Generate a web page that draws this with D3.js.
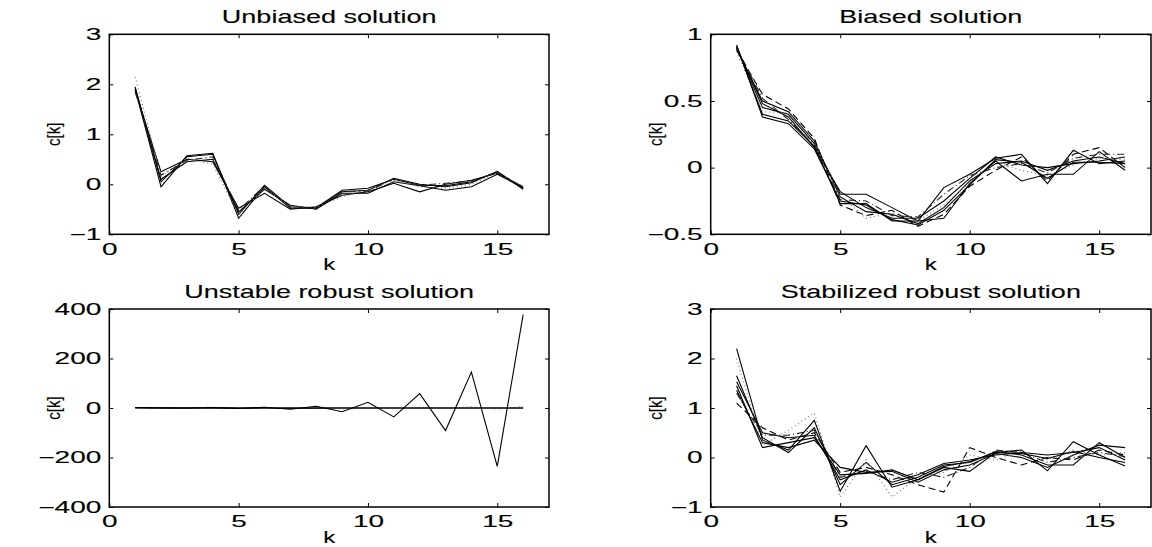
<!DOCTYPE html>
<html><head><meta charset="utf-8">
<script src="https://cdn.jsdelivr.net/npm/d3@7"></script>
<style>body{margin:0;background:#fff}svg{display:block}</style>
</head><body>
<svg id="c" width="1152" height="547"></svg>
<script>
// ---------- data ----------
const k = [1,2,3,4,5,6,7,8,9,10,11,12,13,14,15,16];
const xTicks = [0,5,10,15];

const titles = ["Unbiased solution","Biased solution","Unstable robust solution","Stabilized robust solution"];
const yTicks1 = [-1,0,1,2,3];
const yTicks2 = [-0.5,0,0.5,1];
const yTicks3 = [-400,-200,0,200,400];
const yTicks4 = [-1,0,1,2,3];

// Unbiased solution
const unb1 = [1.95, 0.05, 0.55, 0.60, -0.60, -0.02, -0.45, -0.47, -0.12, -0.08, 0.10, -0.02, -0.03, 0.05, 0.25, -0.08];
const unb2 = [1.90, -0.05, 0.57, 0.62, -0.68, -0.05, -0.48, -0.48, -0.15, -0.12, 0.12, 0.00, -0.05, 0.03, 0.26, -0.10];
const unb3 = [1.88, 0.25, 0.50, 0.45, -0.48, -0.18, -0.50, -0.45, -0.22, -0.15, 0.02, -0.15, 0.00, 0.08, 0.22, -0.05];
const unb4 = [1.92, 0.10, 0.45, 0.50, -0.55, -0.10, -0.42, -0.50, -0.18, -0.18, 0.05, -0.03, -0.12, -0.05, 0.20, -0.07];
const unb5 = [2.15, 0.15, 0.52, 0.40, -0.62, -0.08, -0.44, -0.46, -0.25, -0.10, 0.08, -0.05, -0.08, 0.00, 0.23, -0.04];
const unb6 = [1.85, 0.18, 0.48, 0.55, -0.52, -0.03, -0.46, -0.49, -0.14, -0.14, 0.11, -0.02, 0.02, 0.06, 0.24, -0.09];

// Biased solution
const bia1 = [0.90, 0.45, 0.40, 0.18, -0.20, -0.20, -0.30, -0.40, -0.15, -0.05, 0.07, 0.10, -0.12, 0.13, 0.03, 0.05];
const bia2 = [0.91, 0.40, 0.35, 0.16, -0.27, -0.27, -0.40, -0.40, -0.38, -0.12, 0.05, -0.10, -0.05, -0.05, 0.12, -0.02];
const bia3 = [0.89, 0.50, 0.42, 0.20, -0.22, -0.33, -0.35, -0.42, -0.30, -0.10, 0.03, 0.05, -0.02, 0.05, 0.08, 0.03];
const bia4 = [0.90, 0.48, 0.38, 0.15, -0.18, -0.30, -0.38, -0.38, -0.25, -0.08, 0.08, 0.02, 0.00, 0.03, 0.05, 0.08];
const bia5 = [0.88, 0.55, 0.44, 0.22, -0.28, -0.36, -0.32, -0.44, -0.35, -0.14, -0.02, 0.08, -0.10, 0.10, 0.15, 0.00];
const bia6 = [0.90, 0.52, 0.36, 0.17, -0.24, -0.25, -0.36, -0.37, -0.20, -0.06, 0.00, 0.03, -0.04, 0.07, 0.10, 0.10];
const bia7 = [0.87, 0.42, 0.41, 0.19, -0.21, -0.38, -0.34, -0.40, -0.28, -0.11, 0.04, -0.02, -0.06, 0.02, 0.07, 0.06];
const bia8 = [0.92, 0.38, 0.33, 0.14, -0.25, -0.28, -0.39, -0.43, -0.32, -0.13, 0.06, 0.04, -0.08, 0.04, 0.04, 0.03];

// Unstable robust solution
const uns1 = [0, 0.5, -1, 2, -2, 3, -5, 7, -15, 23, -36, 58, -91, 145, -236, 377];
const uns2 = [1.9, 0.3, 0.4, 0.5, -0.5, -0.2, -0.5, -0.4, -0.2, -0.1, 0.1, 0, -0.1, 0.1, 0.2, 0];
const uns3 = [2, 1, -1, 3, -2, 2, -3, 4, -3, 2, -2, 3, -2, 5, -4, 6];
const uns4 = [1.5, 0.4, 0.3, 0.6, -0.4, -0.1, -0.6, -0.3, -0.1, 0, 0.1, 0.1, -0.2, 0.2, 0.1, -0.1];

// Stabilized robust solution
const sta1 = [2.20, 0.35, 0.15, 0.75, -0.68, 0.24, -0.60, -0.45, -0.20, -0.28, 0.10, 0.15, -0.27, 0.32, 0.05, -0.17];
const sta2 = [1.65, 0.40, 0.10, 0.60, -0.55, -0.10, -0.55, -0.40, -0.15, -0.10, 0.12, 0.05, -0.15, -0.15, 0.30, 0.00];
const sta3 = [1.53, 0.50, 0.40, 0.45, -0.45, -0.25, -0.50, -0.35, -0.12, -0.05, 0.05, 0.10, 0.05, 0.10, 0.20, -0.05];
const sta4 = [1.36, 0.30, 0.20, 0.35, -0.20, -0.30, -0.28, -0.50, -0.25, -0.15, 0.08, 0.00, -0.20, 0.05, 0.25, 0.20];
const sta5 = [1.10, 0.60, 0.35, 0.50, -0.30, -0.20, -0.35, -0.55, -0.70, 0.20, 0.00, -0.15, 0.00, -0.05, 0.15, 0.05];
const sta6 = [1.30, 0.45, 0.45, 0.55, -0.40, -0.28, -0.45, -0.30, -0.40, -0.20, 0.15, 0.10, -0.10, 0.00, 0.10, 0.02];
const sta7 = [2.00, 0.25, 0.55, 0.90, -0.80, -0.05, -0.80, -0.40, -0.30, 0.05, -0.05, 0.12, -0.05, 0.15, 0.05, 0.10];
const sta8 = [1.45, 0.20, 0.30, 0.40, -0.35, -0.32, -0.25, -0.45, -0.18, -0.08, 0.10, 0.08, -0.02, 0.12, 0.00, -0.10];

// ---------- styles ----------
const STY = {
  solid:  {dash:null, color:"#000", w:1.1},
  dashed: {dash:"7,4", color:"#000", w:1.1},
  dashdot:{dash:"7,3,1,3", color:"#222", w:1.1},
  dotted: {dash:"1,3", color:"#777", w:1.2}
};

const panels = [
  {title:titles[0], y:[-1,3], yt:yTicks1, box:[109.3,549,34.3,234.3],
   series:[[unb1,"solid"],[unb2,"solid"],[unb3,"solid"],[unb4,"solid"],[unb5,"dotted"],[unb6,"dashdot"]]},
  {title:titles[1], y:[-0.5,1], yt:yTicks2, box:[710.7,1151,34.3,234.3],
   series:[[bia1,"solid"],[bia2,"solid"],[bia3,"solid"],[bia4,"solid"],[bia5,"dashed"],[bia6,"dashdot"],[bia7,"dotted"],[bia8,"solid"]]},
  {title:titles[2], y:[-400,400], yt:yTicks3, box:[109.3,549,309,507],
   series:[[uns2,"solid"],[uns3,"dotted"],[uns4,"solid"],[uns1,"solid"]]},
  {title:titles[3], y:[-1,3], yt:yTicks4, box:[710.7,1151,309,507],
   series:[[sta2,"solid"],[sta3,"solid"],[sta4,"solid"],[sta5,"dashed"],[sta6,"dashdot"],[sta7,"dotted"],[sta8,"solid"],[sta1,"solid"]]}
];

const FONT = "'Liberation Sans', Arial, Helvetica, sans-serif";
const TICK_FS = 16, TICK_SX = 1.75;
const TITLE_FS = 18, TITLE_SX = 1.5;
const TXT_STROKE = 0.12;
const svg = d3.select("#c");

function fmt(v){ return d3.format("")(v).replace("-", "\u2212"); }

panels.forEach(p => {
  const [L,R,T,B] = p.box;
  const x = d3.scaleLinear().domain([0,17]).range([L,R]);
  const y = d3.scaleLinear().domain(p.y).range([B,T]);
  const g = svg.append("g");

  // lines
  const line = d3.line().x((d,i)=>x(k[i])).y(d=>y(d));
  p.series.forEach(([vals, s]) => {
    const st = STY[s];
    g.append("path").attr("d", line(vals)).attr("fill","none")
      .attr("stroke", st.color).attr("stroke-width", st.w)
      .attr("stroke-dasharray", st.dash).attr("stroke-linejoin","miter");
  });

  // axes (inward ticks)
  const ax = [
    g.append("g").attr("transform",`translate(0,${B})`).call(d3.axisBottom(x).tickValues(xTicks).tickSizeInner(-4).tickSizeOuter(0).tickPadding(9).tickFormat(fmt)),
    g.append("g").attr("transform",`translate(0,${T})`).call(d3.axisTop(x).tickValues(xTicks).tickSizeInner(-4).tickSizeOuter(0).tickFormat("")),
    g.append("g").attr("transform",`translate(${L},0)`).call(d3.axisLeft(y).tickValues(p.yt).tickSizeInner(-4).tickSizeOuter(0).tickPadding(8).tickFormat(fmt)),
    g.append("g").attr("transform",`translate(${R},0)`).call(d3.axisRight(y).tickValues(p.yt).tickSizeInner(-4).tickSizeOuter(0).tickFormat(""))
  ];
  ax.forEach(a => {
    a.select(".domain").remove();
    a.selectAll("line").attr("stroke","#000").attr("stroke-width",1);
    a.selectAll("text").attr("font-family",FONT).attr("font-size",TICK_FS).attr("fill","#000")
      .attr("stroke","#000").attr("stroke-width",TXT_STROKE);
  });
  // horizontal stretch of tick labels
  ax[0].selectAll("text").attr("transform",`scale(${TICK_SX},1)`);
  ax[2].selectAll("text").each(function(){
    const t = d3.select(this); const xx = +t.attr("x");
    t.attr("x",0).attr("transform",`translate(${xx},0) scale(${TICK_SX},1)`);
  });

  // frame
  g.append("rect").attr("x",L).attr("y",T).attr("width",R-L).attr("height",B-T)
    .attr("fill","none").attr("stroke","#000").attr("stroke-width",1.5);

  // title
  g.append("text").attr("transform",`translate(${(L+R)/2},${T-11}) scale(${TITLE_SX},1)`)
    .attr("text-anchor","middle").attr("font-family",FONT).attr("font-size",TITLE_FS)
    .attr("stroke","#000").attr("stroke-width",TXT_STROKE).text(p.title);
  // x label
  g.append("text").attr("transform",`translate(${(L+R)/2},${B+36}) scale(${TITLE_SX},1)`)
    .attr("text-anchor","middle").attr("font-family",FONT).attr("font-size",16)
    .attr("stroke","#000").attr("stroke-width",TXT_STROKE).text("k");
  // y label
  g.append("text").attr("transform",`translate(${L-49},${(T+B)/2}) scale(1.25,1) rotate(-90)`)
    .attr("text-anchor","middle").attr("font-family",FONT).attr("font-size",15)
    .attr("stroke","#000").attr("stroke-width",TXT_STROKE).text("c[k]");
});
</script>
</body></html>
